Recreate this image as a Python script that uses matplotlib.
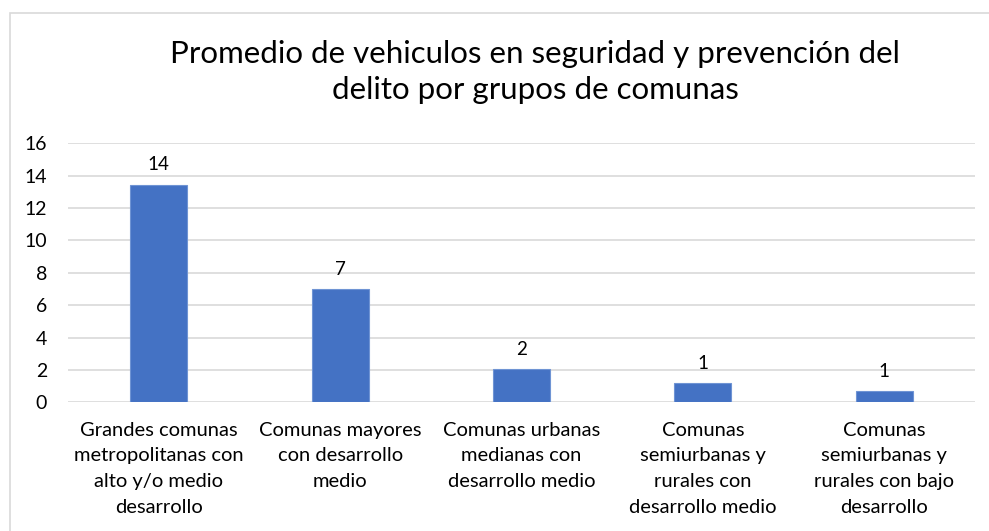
import matplotlib
matplotlib.use("Agg")
import matplotlib.pyplot as plt
from matplotlib.patches import Rectangle

categories = [
    "Grandes comunas\nmetropolitanas con\nalto y/o medio\ndesarrollo",
    "Comunas mayores\ncon desarrollo\nmedio",
    "Comunas urbanas\nmedianas con\ndesarrollo medio",
    "Comunas\nsemiurbanas y\nrurales con\ndesarrollo medio",
    "Comunas\nsemiurbanas y\nrurales con bajo\ndesarrollo",
]
values = [13.45, 7.0, 2.05, 1.17, 0.72]
value_labels = ["14", "7", "2", "1", "1"]
yticks = [0, 2, 4, 6, 8, 10, 12, 14, 16]
title = "Promedio de vehiculos en seguridad y prevención del\ndelito por grupos de comunas"

plt.rcParams['font.family'] = ['Lato', 'DejaVu Sans']

W, H = 989, 531
fig = plt.figure(figsize=(W / 100, H / 100), dpi=100)
ax = fig.add_axes([68 / W, 1 - 402.3 / H, (975 - 68) / W, (402.3 - 143.3) / H])

x = list(range(len(categories)))
bars = ax.bar(x, values, width=0.315, color="#4472C4", edgecolor="#6f94d4", linewidth=0.8, zorder=3)
for xi, v, lab in zip(x, values, value_labels):
    ax.annotate(lab, (xi, v), xytext=(0, 8), textcoords="offset points",
                ha="center", va="bottom", fontsize=13.5, color="#000000")

ax.set_xlim(-0.5, len(categories) - 0.5)
ax.set_ylim(0, 16)
ax.set_yticks(yticks)
ax.set_yticklabels([str(t) for t in yticks], fontsize=14)
ax.set_xticks(x)
ax.set_xticklabels(categories, fontsize=14.5, linespacing=1.62, va="top")
ax.tick_params(axis="both", length=0, colors="#000000")
ax.tick_params(axis="y", pad=15)
ax.tick_params(axis="x", pad=14)
ax.grid(axis="y", color="#d9d9d9", linewidth=1.2, zorder=0)
for s in ax.spines.values():
    s.set_visible(False)

fig.text(535 / W, 1 - 72 / H, title, ha="center", va="center", fontsize=22.5,
         linespacing=1.32, color="#000000")

fig.patches.append(Rectangle((10 / W, -0.1), 1.2, 1 - 13 / H + 0.1, transform=fig.transFigure,
                             fill=False, edgecolor="#d9d9d9", linewidth=1.2))

fig.savefig("out.png", dpi=100)
